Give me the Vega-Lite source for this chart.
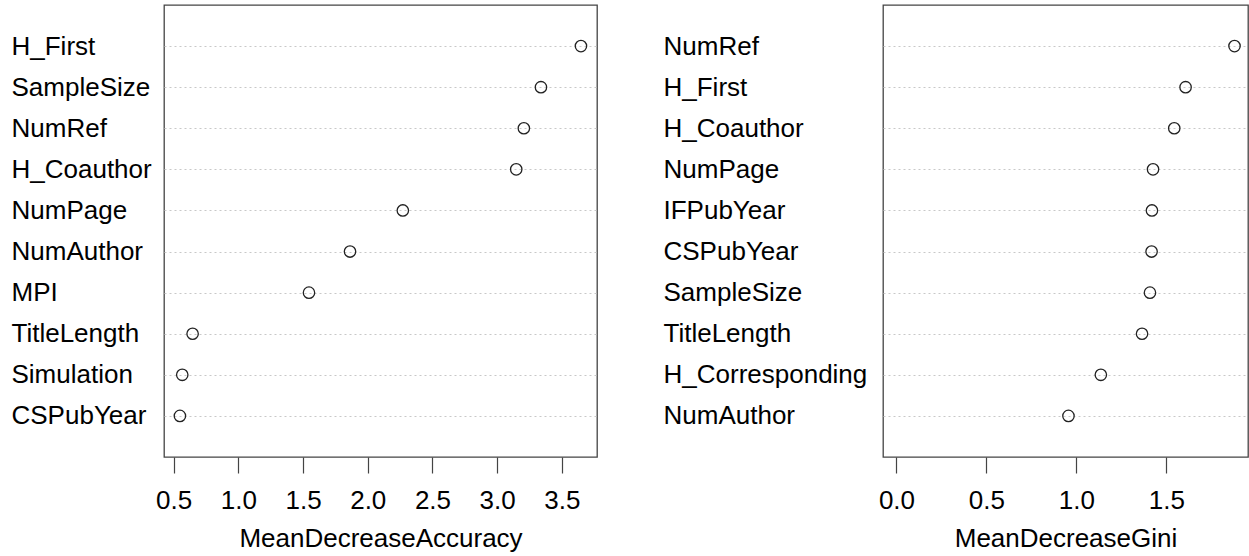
{
  "$schema": "https://vega.github.io/schema/vega-lite/v6.json",
  "padding": {"left": 10, "top": 4, "right": 0, "bottom": 0},
  "background": "white",
  "spacing": 64,
  "config": {
    "font": "Liberation Sans",
    "view": {"stroke": "#444444", "strokeWidth": 1.3},
    "axis": {"labelFontSize": 26, "titleFontSize": 26, "labelColor": "#000000", "titleColor": "#000000", "labelFont": "Liberation Sans", "titleFont": "Liberation Sans", "titleFontWeight": "normal", "labelLimit": 400}
  },
  "datasets": {
    "acc": [
      {"variable": "H_First", "value": 3.647},
      {"variable": "SampleSize", "value": 3.338},
      {"variable": "NumRef", "value": 3.206},
      {"variable": "H_Coauthor", "value": 3.147},
      {"variable": "NumPage", "value": 2.271},
      {"variable": "NumAuthor", "value": 1.863},
      {"variable": "MPI", "value": 1.546},
      {"variable": "TitleLength", "value": 0.647},
      {"variable": "Simulation", "value": 0.567},
      {"variable": "CSPubYear", "value": 0.549}
    ],
    "gini": [
      {"variable": "NumRef", "value": 1.879},
      {"variable": "H_First", "value": 1.607},
      {"variable": "H_Coauthor", "value": 1.544},
      {"variable": "NumPage", "value": 1.426},
      {"variable": "IFPubYear", "value": 1.42},
      {"variable": "CSPubYear", "value": 1.418},
      {"variable": "SampleSize", "value": 1.409},
      {"variable": "TitleLength", "value": 1.365},
      {"variable": "H_Corresponding", "value": 1.136},
      {"variable": "NumAuthor", "value": 0.956}
    ]
  },
  "hconcat": [
    {
      "width": 433,
      "height": 452,
      "data": {"name": "acc"},
      "mark": {"type": "point", "shape": "circle", "filled": false, "stroke": "#222222", "strokeWidth": 1.3, "size": 130, "opacity": 1},
      "encoding": {
        "x": {
          "field": "value", "type": "quantitative",
          "scale": {"domain": [0.426, 3.771], "nice": false, "zero": false},
          "axis": {"values": [0.5, 1.0, 1.5, 2.0, 2.5, 3.0, 3.5], "format": ".1f", "grid": false, "domain": false, "tickSize": 16, "tickColor": "#444444", "tickWidth": 1.2, "labelPadding": 14, "title": "MeanDecreaseAccuracy", "titlePadding": 12}
        },
        "y": {
          "field": "variable", "type": "nominal", "sort": null,
          "scale": {"type": "point", "padding": 1},
          "axis": {"title": null, "ticks": false, "domain": false, "labelAlign": "left", "labelPadding": 153, "grid": true, "gridDash": [2, 3], "gridColor": "#c8c8c8", "gridWidth": 1}
        }
      }
    },
    {
      "width": 365,
      "height": 452,
      "data": {"name": "gini"},
      "mark": {"type": "point", "shape": "circle", "filled": false, "stroke": "#222222", "strokeWidth": 1.3, "size": 130, "opacity": 1},
      "encoding": {
        "x": {
          "field": "value", "type": "quantitative",
          "scale": {"domain": [-0.075, 1.954], "nice": false, "zero": false},
          "axis": {"values": [0.0, 0.5, 1.0, 1.5], "format": ".1f", "grid": false, "domain": false, "tickSize": 16, "tickColor": "#444444", "tickWidth": 1.2, "labelPadding": 14, "title": "MeanDecreaseGini", "titlePadding": 12}
        },
        "y": {
          "field": "variable", "type": "nominal", "sort": null,
          "scale": {"type": "point", "padding": 1},
          "axis": {"title": null, "ticks": false, "domain": false, "labelAlign": "left", "labelPadding": 220, "grid": true, "gridDash": [2, 3], "gridColor": "#c8c8c8", "gridWidth": 1}
        }
      }
    }
  ]
}
